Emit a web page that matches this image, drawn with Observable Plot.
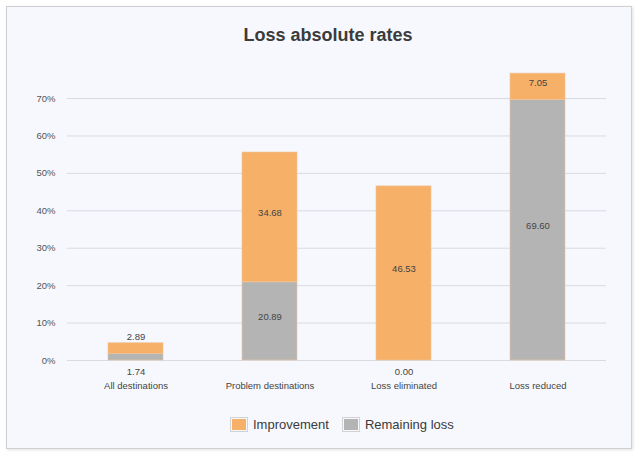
<!DOCTYPE html>
<html>
<head>
<meta charset="utf-8">
<script src="https://cdn.jsdelivr.net/npm/d3@7"></script>
<script src="https://cdn.jsdelivr.net/npm/@observablehq/plot@0.6"></script>
<style>
  html, body { margin: 0; padding: 0; background: #ffffff; }
  body { width: 638px; height: 455px; position: relative; overflow: hidden; font-family: "Liberation Sans", Arial, sans-serif; }
  #frame { position: absolute; left: 6px; top: 6px; width: 624px; height: 441px; background: #f6f8fd; border: 1px solid #cfd0d4; box-shadow: 1px 1px 3px rgba(0,0,0,0.12); }
  #title { position: absolute; left: 9px; top: 25px; width: 638px; text-align: center; font-size: 18px; font-weight: bold; color: #3b3b3b; }
  #chart { position: absolute; left: 0; top: 50px; }
  #legend { position: absolute; left: 230px; top: 417px; display: flex; align-items: center; font-size: 13px; color: #3a3a3a; }
  .sw { width: 14px; height: 11px; border: 1px solid #d2d2d2; padding: 1px; background-clip: content-box; margin-right: 5px; }
  .item { display: flex; align-items: center; margin-right: 13px; }
</style>
</head>
<body>
<div id="frame"></div>
<div id="title">Loss absolute rates</div>
<div id="chart"></div>
<div id="legend"></div>
<script>
const categories = ["All destinations", "Problem destinations", "Loss eliminated", "Loss reduced"];
const remainingLoss = [1.74, 20.89, 0.00, 69.60];
const improvement = [2.89, 34.68, 46.53, 7.05];
const yTicks = [0, 10, 20, 30, 40, 50, 60, 70];
const seriesNames = ["Improvement", "Remaining loss"];
const seriesColors = ["#f6b068", "#b4b4b4"];

const rows = [];
categories.forEach((c, i) => {
  rows.push({cat: c, series: "Remaining loss", value: remainingLoss[i], y1: 0, y2: remainingLoss[i]});
  rows.push({cat: c, series: "Improvement", value: improvement[i], y1: remainingLoss[i], y2: remainingLoss[i] + improvement[i]});
});
const small = 4;
const inside = rows.filter(d => d.value >= small);
const outsideBelow = rows.filter(d => d.value < small && d.series === "Remaining loss");
const outsideAbove = rows.filter(d => d.value < small && d.series === "Improvement");

const fmt = d3.format(".2f");
const plot = Plot.plot({
  width: 638,
  height: 350,
  marginLeft: 67,
  marginRight: 32,
  marginTop: 10.6,
  marginBottom: 40,
  style: {background: "transparent", fontFamily: "'Liberation Sans', Arial, sans-serif", fontSize: "9.5px", color: "#555"},
  x: {domain: categories, type: "band", paddingInner: 0.59, paddingOuter: 0.295, label: null},
  y: {domain: [0, 80], label: null},
  color: {domain: seriesNames, range: seriesColors},
  marks: [
    Plot.ruleY(yTicks, {stroke: "#d9dbe1", strokeWidth: 1}),
    Plot.axisY({ticks: yTicks, tickFormat: d => d + "%", tickSize: 0, tickPadding: 12, label: null, fill: "#555"}),
    Plot.axisX({tickSize: 0, tickPadding: 22, label: null, fill: "#444"}),
    Plot.barY(rows, {x: "cat", y1: "y1", y2: "y2", fill: "series", stroke: "#efc7a0", strokeOpacity: 0.6, strokeWidth: 1}),
    Plot.text(inside, {x: "cat", y: d => (d.y1 + d.y2) / 2, text: d => fmt(d.value), dy: -4, fill: "#444"}),
    Plot.text(outsideBelow, {x: "cat", y: 0, text: d => fmt(d.value), dy: 11, fill: "#444"}),
    Plot.text(outsideAbove, {x: "cat", y: "y2", text: d => fmt(d.value), dy: -6, fill: "#444"})
  ]
});
document.getElementById("chart").appendChild(plot);

const legend = document.getElementById("legend");
seriesNames.forEach((n, i) => {
  const item = document.createElement("div");
  item.className = "item";
  const sw = document.createElement("div");
  sw.className = "sw";
  sw.style.backgroundColor = seriesColors[i];
  const t = document.createElement("span");
  t.textContent = n;
  item.appendChild(sw);
  item.appendChild(t);
  legend.appendChild(item);
});
</script>
</body>
</html>
